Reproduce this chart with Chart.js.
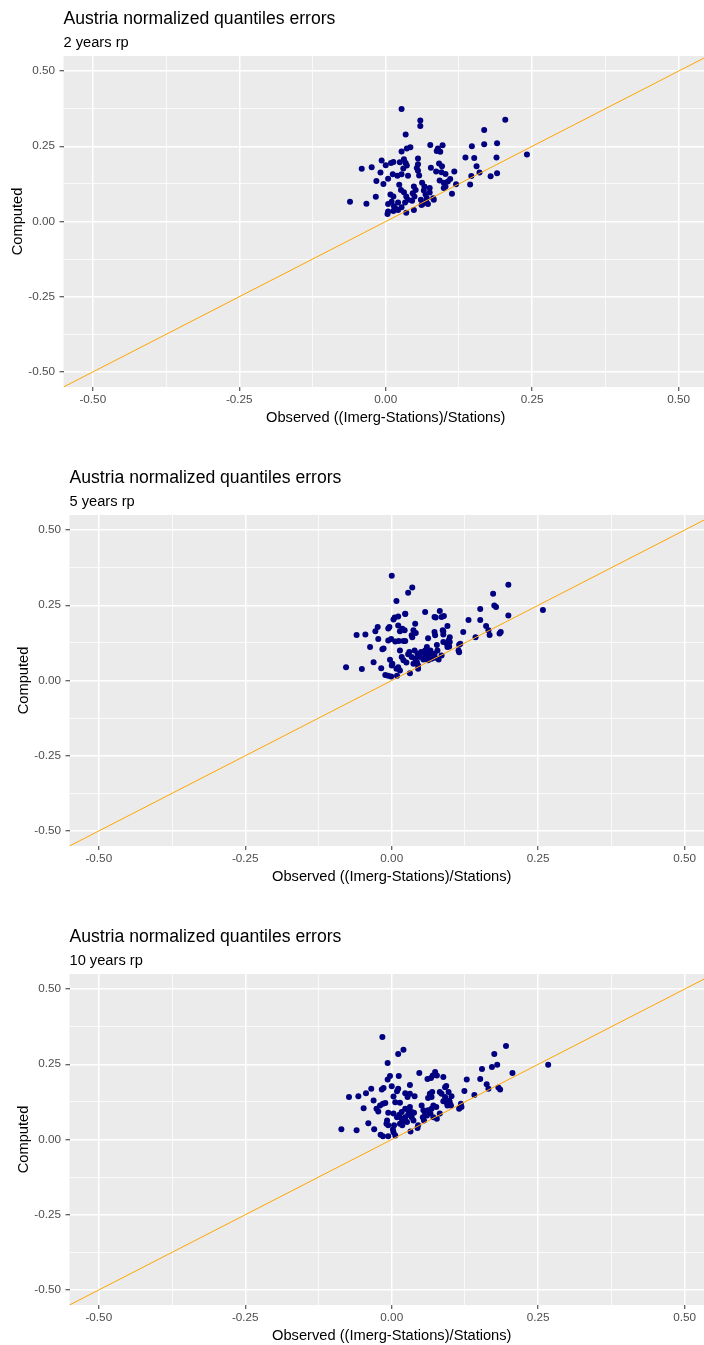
<!DOCTYPE html>
<html>
<head>
<meta charset="utf-8">
<script src="https://cdn.jsdelivr.net/npm/chart.js@4/dist/chart.umd.min.js"></script>
<style>
  html, body { margin: 0; padding: 0; background: #ffffff; overflow: hidden; }
  body { width: 704px; height: 1345px; position: relative; }
  .panel { position: absolute; left: 0; width: 704px; height: 440px; overflow: hidden; }
  .panel canvas { position: absolute; top: 0; }
</style>
</head>
<body>
<div class="panel" style="top:0px"><canvas id="rp2" width="711" height="435" style="left:0px"></canvas></div>
<div class="panel" style="top:459px"><canvas id="rp5" width="711" height="435" style="left:6px"></canvas></div>
<div class="panel" style="top:918px"><canvas id="rp10" width="711" height="435" style="left:6px"></canvas></div>

<script>
// ---- axis setup ----
const axisLimits = [-0.55, 0.55];
const majorTicks = [-0.5, -0.25, 0, 0.25, 0.5];
const minorTicks = [-0.375, -0.125, 0.125, 0.375];
const identityLine = [-0.55, 0.55];

const chartTitle = 'Austria normalized quantiles errors';
const subtitles = ['2 years rp', '5 years rp', '10 years rp'];
const xAxisTitle = 'Observed ((Imerg-Stations)/Stations)';
const yAxisTitle = 'Computed';

// ---- 2 years return period ----
const observed2 = [0.034,0.027,0.036,0.042,0.076,0.087,0.093,0.097,0.089,0.136,-0.041,-0.024,-0.007,-0.009,0.000,0.009,0.013,0.024,0.031,0.034,0.036,0.055,0.055,0.053,0.055,0.030,-0.016,-0.004,0.004,0.012,0.020,0.027,0.038,0.057,0.077,0.091,0.096,0.086,0.095,0.102,0.117,0.110,0.120,0.092,0.099,0.102,0.106,0.099,0.113,-0.061,-0.033,-0.017,0.008,0.013,0.010,0.004,0.014,0.004,0.003,0.013,0.017,0.023,0.026,0.031,0.035,0.038,0.033,0.048,0.051,0.046,0.049,0.045,0.062,0.066,0.065,0.068,0.060,0.063,0.070,0.075,0.075,0.081,0.072,0.035,0.048,0.061,0.069,0.082,0.021,0.027,0.021,0.027,0.059,0.059,0.204,0.168,0.168,0.190,0.147,0.241,0.151,0.189,0.155,0.160,0.146,0.179,0.190,0.144];
const computed2 = [0.289,0.233,0.243,0.247,0.254,0.234,0.232,0.253,0.243,0.213,0.175,0.180,0.203,0.163,0.187,0.194,0.198,0.197,0.207,0.194,0.186,0.209,0.190,0.178,0.169,0.176,0.135,0.125,0.142,0.157,0.152,0.157,0.152,0.153,0.179,0.193,0.184,0.166,0.164,0.158,0.166,0.141,0.124,0.136,0.129,0.116,0.133,0.111,0.092,0.066,0.059,0.082,0.090,0.083,0.066,0.058,0.051,0.033,0.025,0.035,0.042,0.122,0.105,0.097,0.083,0.072,0.063,0.116,0.105,0.094,0.083,0.069,0.129,0.116,0.103,0.090,0.072,0.058,0.077,0.111,0.096,0.077,0.058,0.029,0.038,0.055,0.066,0.072,0.063,0.047,0.038,0.374,0.336,0.317,0.338,0.304,0.257,0.260,0.250,0.223,0.211,0.213,0.184,0.163,0.151,0.150,0.160,0.123];

// ---- 5 years return period ----
const observed5 = [0.000,0.035,0.028,0.008,0.199,0.173,0.175,0.178,0.151,0.199,0.258,0.131,0.151,0.161,0.165,0.167,0.184,0.186,0.143,0.122,0.117,0.115,0.114,0.095,0.082,0.073,0.075,0.089,0.057,0.023,0.040,0.011,0.005,0.011,0.018,0.022,-0.006,-0.004,-0.024,-0.028,-0.060,-0.045,-0.023,-0.037,-0.016,-0.006,-0.001,0.012,0.023,0.037,0.041,0.035,0.062,0.073,0.074,0.088,0.088,0.099,0.099,0.094,0.095,0.098,0.077,0.060,0.057,-0.078,-0.051,-0.031,-0.018,-0.003,0.001,0.000,0.008,0.011,0.014,-0.011,-0.006,-0.001,0.009,0.031,0.045,0.014,0.017,0.020,0.028,0.034,0.040,0.037,0.043,0.039,0.044,0.048,0.057,0.061,0.065,0.068,0.074,0.073,0.062,0.085,0.023,0.085,0.087,0.088,0.097,0.115,0.020,-0.014,0.006,0.034,0.003,0.014,0.030,0.050,0.054,0.025,0.045,0.066,0.078,0.080];
const computed5 = [0.348,0.309,0.292,0.264,0.318,0.288,0.249,0.244,0.238,0.216,0.234,0.201,0.201,0.181,0.167,0.151,0.156,0.161,0.144,0.161,0.122,0.094,0.100,0.181,0.231,0.211,0.209,0.214,0.228,0.221,0.189,0.213,0.209,0.183,0.172,0.167,0.173,0.178,0.178,0.164,0.151,0.153,0.138,0.111,0.104,0.133,0.138,0.131,0.131,0.167,0.158,0.144,0.140,0.161,0.150,0.164,0.153,0.144,0.128,0.122,0.111,0.113,0.118,0.111,0.100,0.044,0.038,0.061,0.041,0.069,0.056,0.050,0.039,0.044,0.033,0.018,0.016,0.013,0.016,0.024,0.039,0.100,0.078,0.067,0.087,0.078,0.072,0.056,0.061,0.100,0.089,0.078,0.083,0.078,0.089,0.072,0.076,0.089,0.067,0.083,0.222,0.211,0.167,0.128,0.133,0.119,0.131,0.106,0.130,0.150,0.203,0.164,0.095,0.095,0.070,0.060,0.050,0.100,0.100,0.070];

// ---- 10 years return period ----
const observed10 = [-0.016,0.011,0.020,-0.007,0.195,0.175,0.180,0.171,0.154,0.206,0.267,0.128,0.151,0.162,0.165,0.182,0.185,0.141,0.124,0.118,0.115,0.119,0.047,0.061,0.067,0.074,0.077,0.088,0.093,0.012,-0.007,-0.003,0.000,0.011,0.009,0.031,-0.035,-0.044,-0.073,-0.057,-0.031,-0.048,-0.017,-0.014,-0.015,-0.020,-0.011,-0.023,0.003,0.006,0.014,0.023,0.027,0.031,0.039,0.023,0.031,0.034,0.028,0.023,0.017,0.062,0.065,0.069,0.068,0.082,0.085,0.088,0.094,0.098,0.102,0.101,0.095,0.071,-0.086,-0.060,-0.040,-0.030,-0.008,-0.006,-0.009,-0.019,-0.015,-0.006,0.003,0.006,0.018,0.032,0.044,-0.026,-0.006,0.003,0.004,0.002,0.009,0.013,0.017,0.020,0.014,0.026,0.028,0.031,0.034,0.037,0.038,0.045,0.051,0.054,0.057,0.060,0.053,0.062,0.066,0.071,0.068,0.055,0.076,0.082,0.077,0.091,0.097,0.091,0.099,0.070];
const computed10 = [0.341,0.284,0.298,0.254,0.311,0.284,0.248,0.241,0.234,0.221,0.248,0.199,0.201,0.184,0.169,0.173,0.166,0.148,0.161,0.119,0.102,0.108,0.221,0.201,0.204,0.224,0.213,0.208,0.178,0.211,0.199,0.211,0.177,0.169,0.160,0.181,0.169,0.154,0.141,0.144,0.130,0.104,0.166,0.171,0.119,0.113,0.121,0.093,0.143,0.124,0.122,0.154,0.141,0.152,0.144,0.102,0.108,0.091,0.082,0.074,0.091,0.138,0.152,0.158,0.141,0.158,0.152,0.127,0.122,0.130,0.144,0.113,0.113,0.113,0.034,0.031,0.054,0.034,0.063,0.047,0.052,0.016,0.011,0.011,0.024,0.013,0.047,0.027,0.038,0.102,0.089,0.086,0.047,0.033,0.074,0.082,0.069,0.063,0.052,0.058,0.097,0.086,0.074,0.063,0.089,0.047,0.113,0.097,0.086,0.080,0.074,0.097,0.086,0.074,0.102,0.063,0.108,0.086,0.069,0.174,0.158,0.141,0.124,0.213];

// ---- styling ----
const FONT = '"Liberation Sans", Arial, Helvetica, sans-serif';
const PANEL_BG = '#EBEBEB';
const isMajor = v => majorTicks.some(m => Math.abs(m - v) < 1e-9);
const tickValues = majorTicks.concat(minorTicks).sort((a, b) => a - b);

const panelBackground = {
  id: 'panelBackground',
  beforeDraw(chart) {
    const { ctx, chartArea: a } = chart;
    ctx.save();
    ctx.fillStyle = PANEL_BG;
    ctx.fillRect(a.left, a.top, a.right - a.left, a.bottom - a.top);
    ctx.restore();
  }
};

const plotTitles = {
  id: 'plotTitles',
  afterDraw(chart, args, opts) {
    const { ctx, chartArea: a } = chart;
    ctx.save();
    ctx.fillStyle = '#000000';
    ctx.textAlign = 'left';
    ctx.textBaseline = 'alphabetic';
    ctx.font = '17.6px ' + FONT;
    ctx.fillText(opts.title, a.left, a.top - 32);
    ctx.font = '14.67px ' + FONT;
    ctx.fillText(opts.subtitle, a.left, a.top - 9.3);
    ctx.restore();
  }
};

function axisOptions(isX) {
  return {
    type: 'linear',
    position: isX ? 'bottom' : 'left',
    min: axisLimits[0],
    max: axisLimits[1],
    afterBuildTicks(scale) {
      scale.ticks = tickValues.map(v => ({ value: v }));
    },
    afterFit(scale) {
      if (isX) scale.height = 48; else scale.width = 63.5;
    },
    border: { display: false },
    grid: {
      color: '#FFFFFF',
      lineWidth: ctx => (ctx.tick && isMajor(ctx.tick.value)) ? 1.5 : 0.75,
      tickColor: ctx => (ctx.tick && isMajor(ctx.tick.value)) ? '#333333' : 'rgba(0,0,0,0)',
      tickLength: 4,
      tickWidth: 1,
      drawTicks: true,
      drawOnChartArea: true
    },
    ticks: {
      autoSkip: false,
      maxRotation: 0,
      minRotation: 0,
      padding: isX ? 2 : 4.5,
      color: '#4D4D4D',
      font: { family: FONT, size: 11.73 },
      callback: v => isMajor(v) ? Number(v).toFixed(2) : ''
    },
    title: {
      display: true,
      text: isX ? xAxisTitle : yAxisTitle,
      color: '#000000',
      font: { family: FONT, size: 14.67 },
      padding: isX ? { top: 0, bottom: 8.2 } : { top: 9.2, bottom: 0 }
    }
  };
}

function drawPanel(canvasId, subtitle, xs, ys) {
  const points = xs.map((x, i) => ({ x: x, y: ys[i] }));
  const diagonal = identityLine.map(v => ({ x: v, y: v }));
  new Chart(document.getElementById(canvasId), {
    type: 'scatter',
    data: {
      datasets: [
        {
          type: 'line',
          data: diagonal,
          borderColor: '#FFA500',
          borderWidth: 1,
          pointRadius: 0,
          fill: false,
          clip: 0,
          order: 0
        },
        {
          type: 'scatter',
          data: points,
          backgroundColor: '#000080',
          borderWidth: 0,
          pointRadius: 3,
          pointHoverRadius: 3,
          order: 1
        }
      ]
    },
    options: {
      responsive: false,
      animation: false,
      devicePixelRatio: 1,
      events: [],
      layout: { padding: { top: 56, left: 0, right: 0, bottom: 0 } },
      plugins: {
        legend: { display: false },
        tooltip: { enabled: false },
        plotTitles: { title: chartTitle, subtitle: subtitle }
      },
      scales: { x: axisOptions(true), y: axisOptions(false) }
    },
    plugins: [panelBackground, plotTitles]
  });
}

drawPanel('rp2', subtitles[0], observed2, computed2);
drawPanel('rp5', subtitles[1], observed5, computed5);
drawPanel('rp10', subtitles[2], observed10, computed10);
</script>
</body>
</html>
